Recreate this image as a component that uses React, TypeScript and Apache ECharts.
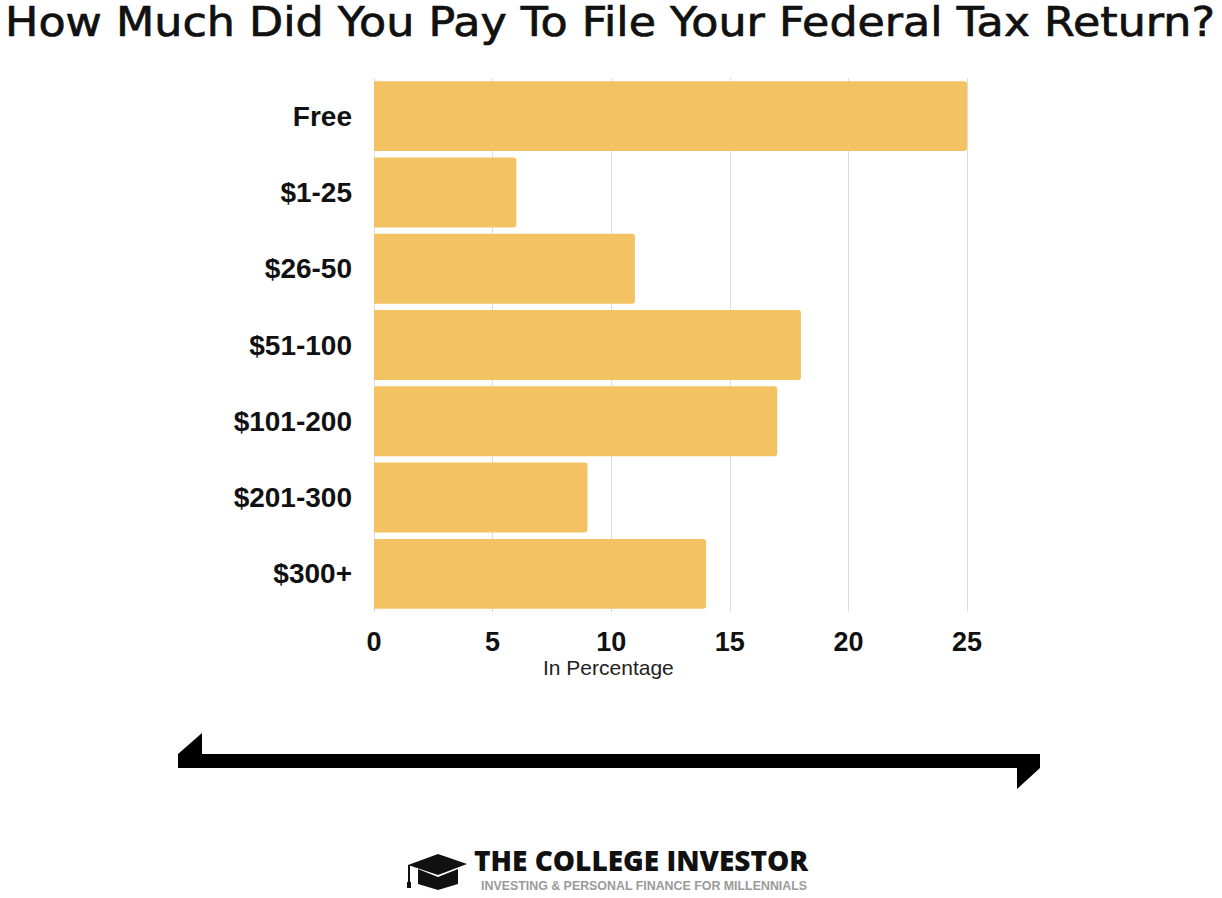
import React, { useEffect, useRef } from "react";
import * as echarts from "echarts";

const categories = ["Free", "$1-25", "$26-50", "$51-100", "$101-200", "$201-300", "$300+"];
const values = [25, 6, 11, 18, 17, 9, 14];
const xTicks = { min: 0, max: 25, interval: 5 };
const titleText = "How Much Did You Pay To File Your Federal Tax Return?";
const axisName = "In Percentage";
const brandName = "THE COLLEGE INVESTOR";
const brandTagline = "INVESTING & PERSONAL FINANCE FOR MILLENNIALS";

export default function App() {
  const ref = useRef<HTMLDivElement>(null);
  useEffect(() => {
    if (!ref.current) return;
    const chart = echarts.init(ref.current, null, { renderer: "svg" });
    const labelFont = "'Liberation Sans', Arial, sans-serif";
    chart.setOption({
      animation: false,
      backgroundColor: "#ffffff",
      grid: { left: 374, right: 255, top: 78, bottom: 286 },
      xAxis: {
        type: "value",
        min: xTicks.min,
        max: xTicks.max,
        interval: xTicks.interval,
        axisLine: { show: false },
        axisTick: { show: false },
        splitLine: { show: true, lineStyle: { color: "#dddddd", width: 1 } },
        axisLabel: {
          margin: 16,
          fontFamily: labelFont,
          fontWeight: "bold",
          fontSize: 27,
          color: "#111111",
        },
      },
      yAxis: {
        type: "category",
        data: categories,
        inverse: true,
        axisLine: { show: false },
        axisTick: { show: false },
        splitLine: { show: false },
        axisLabel: {
          margin: 22,
          fontFamily: labelFont,
          fontWeight: "bold",
          fontSize: 28,
          color: "#111111",
        },
      },
      series: [
        {
          type: "bar",
          data: values,
          barCategoryGap: "8.3%",
          itemStyle: { color: "#F3C263", borderRadius: [0, 3, 3, 0] },
        },
      ],
      graphic: [
        {
          type: "text",
          x: 5,
          y: 2,
          scaleX: 1.11,
          scaleY: 1,
          style: {
            text: titleText,
            fontFamily: "'DejaVu Sans', sans-serif",
            fontWeight: "normal",
            fontSize: 40,
            fill: "#111111",
            stroke: "#111111",
            lineWidth: 0.7,
          },
        },
        {
          type: "text",
          left: 543,
          top: 657,
          style: {
            text: axisName,
            fontFamily: labelFont,
            fontSize: 21,
            fill: "#222222",
          },
        },
        {
          type: "polygon",
          shape: {
            points: [
              [178, 754],
              [202, 733],
              [202, 754],
              [1040, 754],
              [1040, 768],
              [1017, 789],
              [1017, 768],
              [178, 768],
            ],
          },
          style: { fill: "#000000" },
        },
        {
          type: "polygon",
          shape: { points: [[438, 854], [467, 864], [438, 875], [408, 865]] },
          style: { fill: "#111111" },
        },
        {
          type: "polygon",
          shape: {
            points: [[418, 869], [438, 877], [458, 869], [458, 884], [438, 890], [418, 884]],
          },
          style: { fill: "#111111" },
        },
        {
          type: "line",
          shape: { x1: 409, y1: 865, x2: 409, y2: 884 },
          style: { stroke: "#111111", lineWidth: 2 },
        },
        {
          type: "rect",
          shape: { x: 407, y: 882, width: 4, height: 6 },
          style: { fill: "#111111" },
        },
        {
          type: "text",
          left: 474,
          top: 846,
          style: {
            text: brandName,
            fontFamily: "'Open Sans', sans-serif",
            fontWeight: 800,
            fontSize: 28,
            fill: "#111111",
          },
        },
        {
          type: "text",
          left: 481,
          top: 880,
          style: {
            text: brandTagline,
            fontFamily: labelFont,
            fontWeight: "bold",
            fontSize: 12.4,
            fill: "#9a9a9a",
          },
        },
      ],
    });
    return () => chart.dispose();
  }, []);
  return (
    <div
      ref={ref}
      style={{ position: "fixed", left: 0, top: 0, width: 1222, height: 898, background: "#fff" }}
    />
  );
}
